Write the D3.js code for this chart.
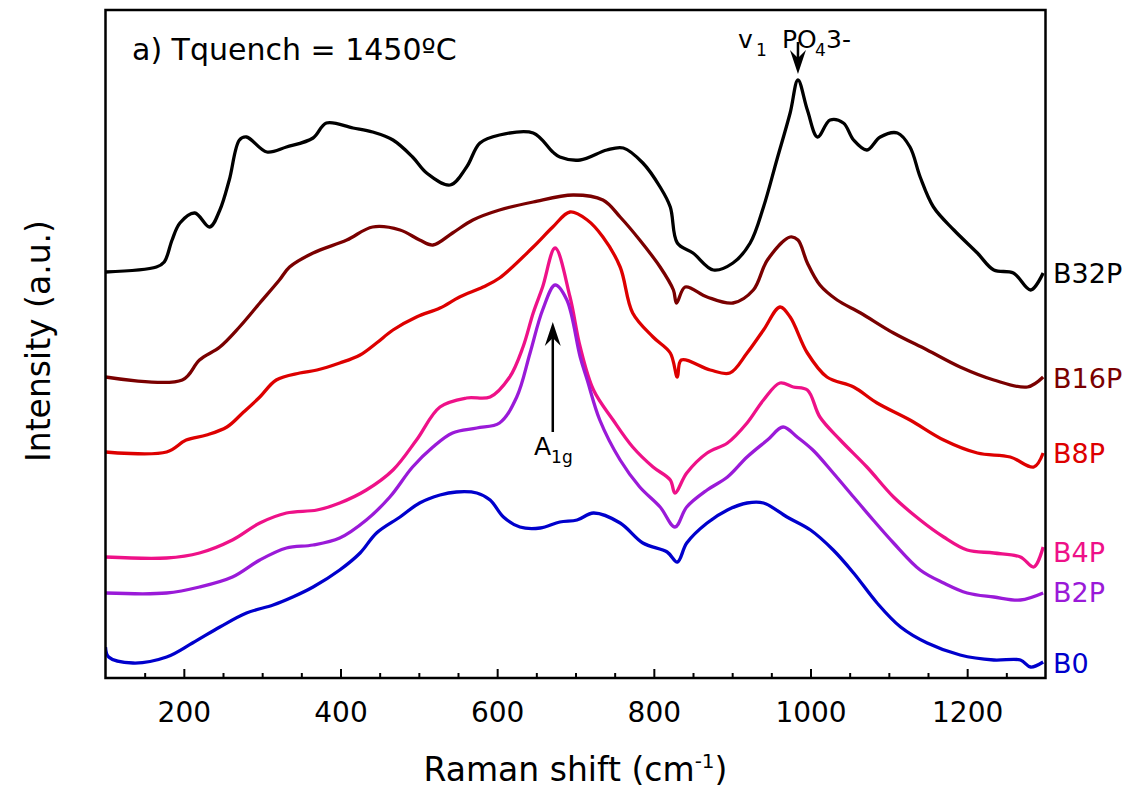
<!DOCTYPE html>
<html>
<head>
<meta charset="utf-8">
<script src="https://cdn.jsdelivr.net/npm/d3@7"></script>
<style>
  html, body { margin: 0; padding: 0; background: #fff; }
  svg { display: block; }
  text { font-family: "DejaVu Sans", sans-serif; }
</style>
</head>
<body>
<svg id="chart" width="1136" height="799"></svg>
<script>
// ---------------- DATA (Raman shift in cm-1, intensity in arbitrary units) ----------------
const seriesNames = ["B32P", "B16P", "B8P", "B4P", "B2P", "B0"];
const seriesColors = ["#000000", "#7a0000", "#dd0000", "#ee1188", "#9a1ad8", "#0000cc"];

const b32pShift = [100,165,175,185,195,214,233,246,258,271,280,306,331,365,382,416,441,467,492,510,540,561,578,603,646,671,680,706,740,761,786,808,821,830,850,876,901,923,940,957,974,984,996,1009,1025,1042,1055,1072,1089,1111,1127,1140,1157,1183,1213,1234,1259,1281,1297];
const b32pIntensity = [406,411,416,438,455,465,451,468,498,538,541,526,531,540,555,550,546,538,521,505,493,511,535,543,545,526,521,518,528,530,515,491,471,435,425,408,415,435,471,518,565,598,568,541,558,555,538,528,541,545,531,501,471,448,425,408,405,388,405];

const b16pShift = [100,198,220,246,271,297,322,335,365,408,441,476,501,518,543,569,603,646,697,735,757,782,808,825,829,840,868,901,927,945,974,984,996,1012,1034,1064,1106,1149,1191,1234,1277,1297];
const b16pIntensity = [301,298,318,331,351,375,398,411,425,438,451,448,438,433,445,458,468,476,483,478,461,438,411,388,375,391,381,375,388,418,441,438,415,393,378,365,345,328,311,298,291,301];

const b8pShift = [100,178,203,229,255,275,297,318,348,370,399,425,446,467,497,527,552,582,603,646,671,693,715,735,757,773,799,821,830,835,872,897,919,940,961,974,996,1021,1055,1085,1127,1170,1213,1255,1285,1297];
const b8pIntensity = [226,226,238,243,251,265,281,298,305,308,315,323,335,348,361,370,381,391,400,431,451,466,458,441,411,365,341,325,301,318,308,305,325,348,371,361,325,301,291,275,258,238,225,221,211,225];

const b4pShift = [100,178,220,262,297,331,370,399,433,467,497,527,561,591,616,633,646,658,674,693,706,723,748,773,799,821,827,842,868,894,919,940,961,978,996,1012,1038,1072,1106,1140,1170,1200,1234,1268,1285,1297];
const b4pIntensity = [121,120,125,138,155,165,168,175,188,208,238,271,280,281,301,331,365,391,430,381,331,288,258,231,211,198,185,205,225,235,255,278,295,291,288,261,238,211,181,158,141,128,125,121,111,131];

const b2pShift = [100,178,220,262,297,331,365,399,433,463,492,518,543,574,603,625,642,658,674,689,706,715,731,757,782,808,827,842,868,894,919,945,965,983,1003,1029,1055,1080,1106,1140,1170,1200,1234,1268,1297];
const b2pIntensity = [85,85,91,101,118,130,133,140,158,181,211,231,245,250,255,281,325,368,393,378,321,298,258,218,191,171,151,171,188,201,221,238,251,241,228,205,181,158,135,108,95,85,81,78,85];

const b0Shift = [100,104,135,178,211,246,280,314,339,365,399,425,446,476,501,527,548,574,591,608,629,655,680,702,723,757,786,817,830,842,868,894,919,940,970,1000,1029,1055,1085,1115,1149,1191,1234,1268,1281,1297];
const b0Intensity = [31,21,15,21,35,51,65,73,81,91,108,125,145,161,175,183,186,185,178,161,151,150,156,158,165,155,135,126,116,135,155,168,175,175,161,148,128,105,75,51,35,23,18,18,11,16];

const xMajorTicks = [200, 400, 600, 800, 1000, 1200];
const xMinorTicks = [150, 250, 300, 350, 450, 500, 550, 650, 700, 750, 850, 900, 950, 1050, 1100, 1150, 1250];

const titleText = "a) Tquench = 1450\u00BAC";
const xAxisTitle = "Raman shift (cm";
const yAxisTitle = "Intensity (a.u.)";
const peakPO4Shift = 984;
const peakA1gShift = 671;

// ---------------- LAYOUT ----------------
const svg = d3.select("#chart");
const pLeft = 105.5, pRight = 1045.5, pTop = 10, pBottom = 678;
const labelBaselines = [283, 388, 463, 562, 602, 673];

const x = d3.scaleLinear().domain([100, 1300]).range([pLeft, pRight]);
const y = d3.scaleLinear().domain([0, 668]).range([pBottom, pTop]);

const shifts = [b32pShift, b16pShift, b8pShift, b4pShift, b2pShift, b0Shift];
const intens = [b32pIntensity, b16pIntensity, b8pIntensity, b4pIntensity, b2pIntensity, b0Intensity];

svg.append("defs").append("clipPath").attr("id", "plotClip")
  .append("rect").attr("x", pLeft).attr("y", pTop).attr("width", pRight - pLeft).attr("height", pBottom - pTop);

const line = d3.line().x(d => x(d[0])).y(d => y(d[1])).curve(d3.curveCatmullRom.alpha(0.5));

const plot = svg.append("g").attr("clip-path", "url(#plotClip)");
seriesNames.forEach((name, i) => {
  const pts = shifts[i].map((s, k) => [s, intens[i][k]]);
  plot.append("path")
    .datum(pts)
    .attr("d", line)
    .attr("fill", "none")
    .attr("stroke", seriesColors[i])
    .attr("stroke-width", 3.3)
    .attr("stroke-linejoin", "round");
});

// Axes: inward ticks
const xAxisMajor = d3.axisBottom(x).tickValues(xMajorTicks).tickSize(-9).tickPadding(24).tickFormat(d3.format("d"));
const gx = svg.append("g").attr("transform", `translate(0,${pBottom})`).call(xAxisMajor);
gx.select(".domain").remove();
gx.selectAll("line").attr("stroke", "#000").attr("stroke-width", 2);
gx.selectAll("text").attr("font-size", 28).attr("font-family", "DejaVu Sans").attr("fill", "#000");

const xAxisMinor = d3.axisBottom(x).tickValues(xMinorTicks).tickSize(-5).tickFormat("");
const gxm = svg.append("g").attr("transform", `translate(0,${pBottom})`).call(xAxisMinor);
gxm.select(".domain").remove();
gxm.selectAll("line").attr("stroke", "#000").attr("stroke-width", 2);

// Frame
svg.append("rect").attr("x", pLeft).attr("y", pTop).attr("width", pRight - pLeft).attr("height", pBottom - pTop)
  .attr("fill", "none").attr("stroke", "#000").attr("stroke-width", 2.5);

// Title inside
svg.append("text").attr("x", 132).attr("y", 60).attr("font-size", 30).attr("fill", "#000").text(titleText);

// Axis titles
const xt = svg.append("text").attr("x", (pLeft + pRight) / 2).attr("y", 781).attr("text-anchor", "middle")
  .attr("font-size", 33).attr("fill", "#000");
xt.append("tspan").text(xAxisTitle);
xt.append("tspan").attr("font-size", 20).attr("dy", -13).text("-1");
xt.append("tspan").attr("dy", 13).text(")");

svg.append("text").attr("transform", `translate(50,341) rotate(-90)`).attr("text-anchor", "middle")
  .attr("font-size", 33).attr("fill", "#000").text(yAxisTitle);

// Series labels
seriesNames.forEach((name, i) => {
  svg.append("text").attr("x", 1053).attr("y", labelBaselines[i]).attr("font-size", 27)
    .attr("fill", seriesColors[i]).text(name);
});

// Arrow helper (stealth arrowhead)
function arrow(x0, yTail, yTip) {
  const dir = yTip > yTail ? 1 : -1;
  svg.append("line").attr("x1", x0).attr("x2", x0).attr("y1", yTail).attr("y2", yTip - dir * 12)
    .attr("stroke", "#000").attr("stroke-width", 2.5);
  svg.append("path")
    .attr("d", `M${x0},${yTip} L${x0 - 8},${yTip - dir * 24} L${x0},${yTip - dir * 16} L${x0 + 8},${yTip - dir * 24} Z`)
    .attr("fill", "#000");
}

// v1 PO4 3- annotation
const ax1 = x(peakPO4Shift);
const t1 = svg.append("text").attr("x", 738).attr("y", 48).attr("font-size", 25).attr("fill", "#000");
t1.append("tspan").text("v");
t1.append("tspan").attr("x", 756).attr("dy", 8).attr("font-size", 17).text("1");
t1.append("tspan").attr("x", 782).attr("dy", -8).text("PO");
t1.append("tspan").attr("x", 815).attr("dy", 8).attr("font-size", 17).text("4");
t1.append("tspan").attr("x", 826).attr("dy", -8).text("3-");
arrow(ax1, 42, 74);

// A1g annotation
const ax2 = x(peakA1gShift);
arrow(ax2, 432, 322);
const t2 = svg.append("text").attr("x", 534).attr("y", 455).attr("font-size", 25).attr("fill", "#000");
t2.append("tspan").text("A");
t2.append("tspan").attr("dy", 8).attr("font-size", 17).text("1g");
</script>
</body>
</html>
